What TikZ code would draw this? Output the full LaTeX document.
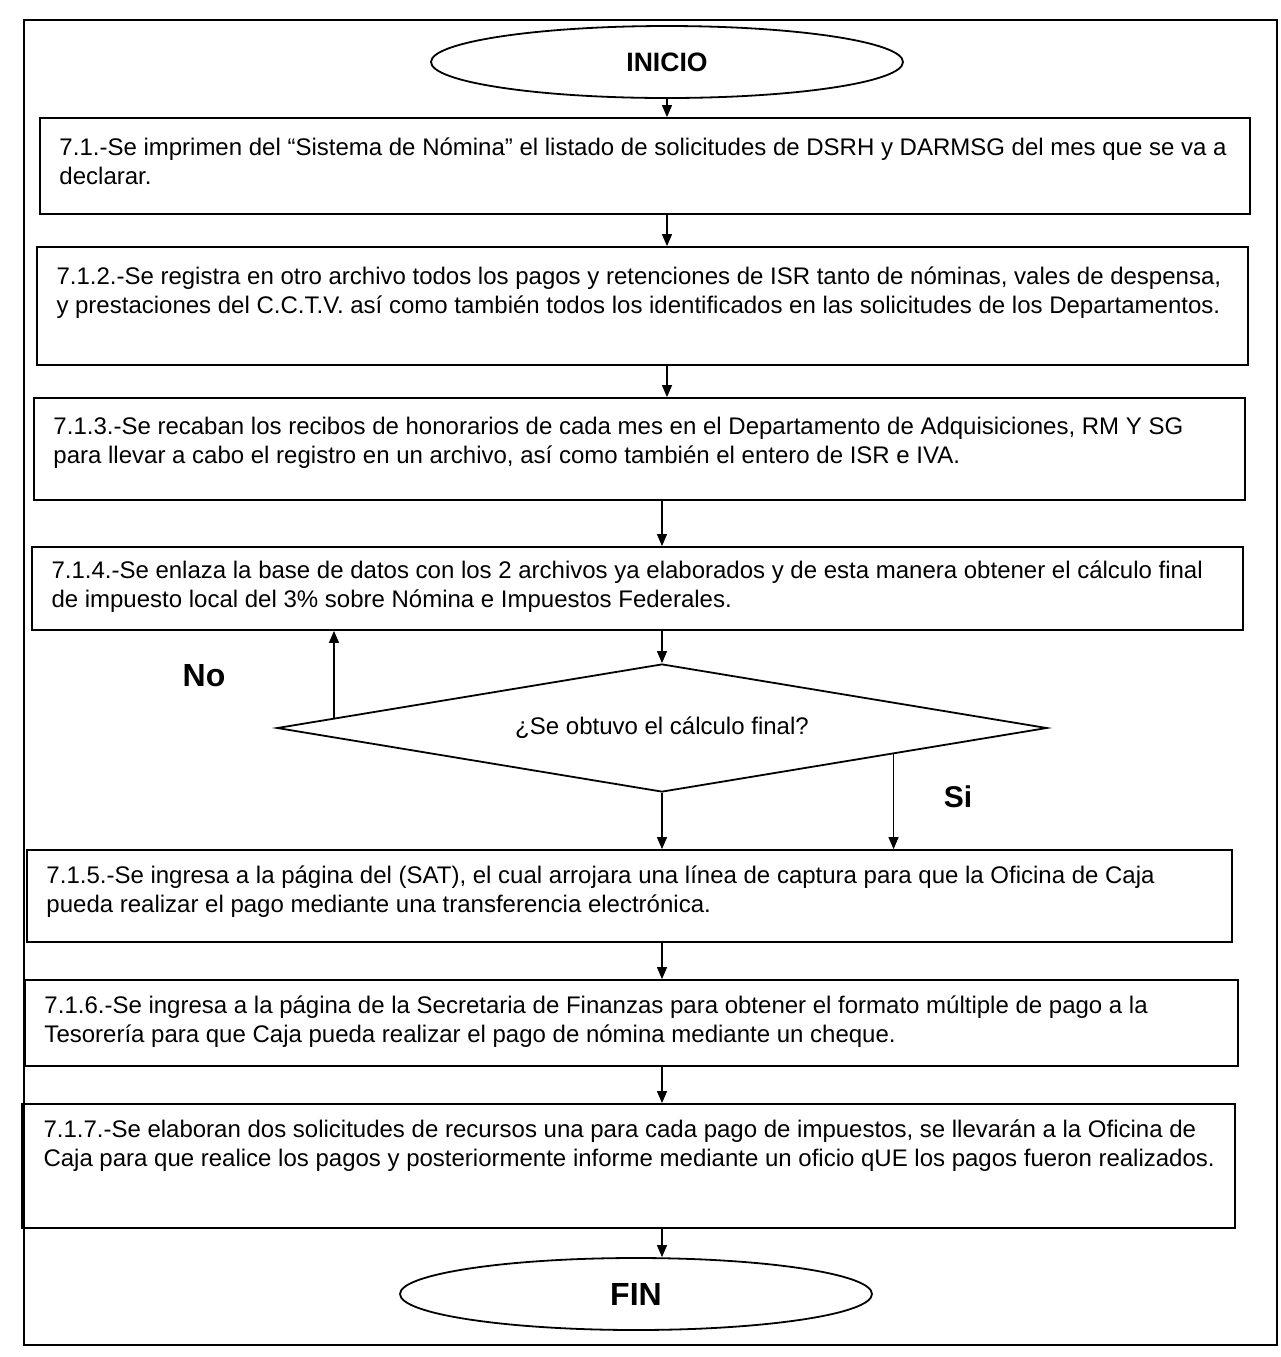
\documentclass[tikz,border=0pt]{standalone}
\usepackage{fontspec}
\setmainfont{Liberation Sans}
\usetikzlibrary{shapes.geometric,calc,arrows.meta}
\begin{document}
\begin{tikzpicture}[x=0.5pt, y=-0.5pt,
    caja/.style={draw, line width=0.9pt, rectangle, inner sep=0pt},
    texto/.style={anchor=north west, inner sep=0pt, align=left, font=\fontsize{12}{14.5}\selectfont},
    terminal/.style={draw, line width=0.9pt, ellipse, inner sep=0pt, minimum width=236pt, minimum height=36pt},
    decision/.style={draw, line width=0.9pt, diamond, aspect=6, inner sep=0pt, minimum width=385pt, minimum height=64pt, font=\fontsize{12}{14.5}\selectfont},
    flecha/.style={-{Triangle[length=6pt,width=5pt]}, line width=0.6pt},
    etiqueta/.style={font=\bfseries\fontsize{15}{18}\selectfont}]
    \useasboundingbox (0,0) rectangle (1281,1357);
    \node[draw, line width=0.8pt, minimum width=626.5pt, minimum height=662.5pt, inner sep=0pt] (marco) at (650.5,682.5) {};

    \node[terminal, font=\bfseries\fontsize{13.3}{16}\selectfont] (inicio) at (667,62) {INICIO};

    \node[caja, minimum width=605pt, minimum height=48pt] (b1) at (645,166) {};
    \node[texto] (t1) at ([xshift=10pt, yshift=-10pt]b1.north west) {7.1.-Se imprimen del “Sistema de Nómina” el listado de solicitudes de DSRH y DARMSG del mes que se va a\\declarar.};

    \node[caja, minimum width=605.5pt, minimum height=59pt] (b2) at (642.5,306) {};
    \node[texto] (t2) at ([xshift=10pt, yshift=-10pt]b2.north west) {7.1.2.-Se registra en otro archivo todos los pagos y retenciones de ISR tanto de nóminas, vales de despensa,\\y prestaciones del C.C.T.V. así como también todos los identificados en las solicitudes de los Departamentos.};

    \node[caja, minimum width=605.5pt, minimum height=51pt] (b3) at (639.5,449) {};
    \node[texto] (t3) at ([xshift=10pt, yshift=-10pt]b3.north west) {7.1.3.-Se recaban los recibos de honorarios de cada mes en el Departamento de Adquisiciones, RM Y SG\\para llevar a cabo el registro en un archivo, así como también el entero de ISR e IVA.};

    \node[caja, minimum width=605.5pt, minimum height=41.5pt] (b4) at (637.5,588.5) {};
    \node[texto] (t4) at ([xshift=10pt, yshift=-7pt]b4.north west) {7.1.4.-Se enlaza la base de datos con los 2 archivos ya elaborados y de esta manera obtener el cálculo final\\de impuesto local del 3\% sobre Nómina e Impuestos Federales.};

    \node[decision] (dec) at (662,728) {¿Se obtuvo el cálculo final?};

    \node[caja, minimum width=602.5pt, minimum height=46pt] (b5) at (629.5,896) {};
    \node[texto] (t5) at ([xshift=10pt, yshift=-8pt]b5.north west) {7.1.5.-Se ingresa a la página del (SAT), el cual arrojara una línea de captura para que la Oficina de Caja\\pueda realizar el pago mediante una transferencia electrónica.};

    \node[caja, minimum width=606.5pt, minimum height=43pt] (b6) at (631.5,1023) {};
    \node[texto] (t6) at ([xshift=10pt, yshift=-8pt]b6.north west) {7.1.6.-Se ingresa a la página de la Secretaria de Finanzas para obtener el formato múltiple de pago a la\\Tesorería para que Caja pueda realizar el pago de nómina mediante un cheque.};

    \node[caja, minimum width=606.5pt, minimum height=62pt] (b7) at (628.5,1166) {};
    \node[texto] (t7) at ([xshift=11pt, yshift=-8pt]b7.north west) {7.1.7.-Se elaboran dos solicitudes de recursos una para cada pago de impuestos, se llevarán a la Oficina de\\Caja para que realice los pagos y posteriormente informe mediante un oficio qUE los pagos fueron realizados.};

    \node[terminal, font=\bfseries\fontsize{16}{19}\selectfont] (fin) at (636,1294) {FIN};

    \draw[flecha] (inicio) -- (inicio |- b1.north);
    \draw[flecha] (b1.south -| inicio) -- (b2.north -| inicio);
    \draw[flecha] (b2.south -| inicio) -- (b3.north -| inicio);
    \draw[flecha] (b3.south -| dec) -- (b4.north -| dec);
    \draw[flecha] (b4.south -| dec) -- (dec.north);
    \draw[flecha] (dec.south) -- (dec.south |- b5.north);
    \coordinate (no) at ($(dec.west)!0.15!(dec.north)$);
    \draw[flecha] (no) -- (no |- b4.south);
    \coordinate (si) at ($(dec.east)!0.4!(dec.south)$);
    \draw[flecha] (si) -- (si |- b5.north);
    \draw[flecha] (b5.south -| dec) -- (b6.north -| dec);
    \draw[flecha] (b6.south -| dec) -- (b7.north -| dec);
    \draw[flecha] (b7.south -| dec) -- (dec |- fin.north);

    \node[etiqueta, font=\bfseries\fontsize{16}{19}\selectfont] (lno) at (204,676) {No};
    \node[etiqueta] (lsi) at (958,797) {Si};
\end{tikzpicture}
\end{document}
